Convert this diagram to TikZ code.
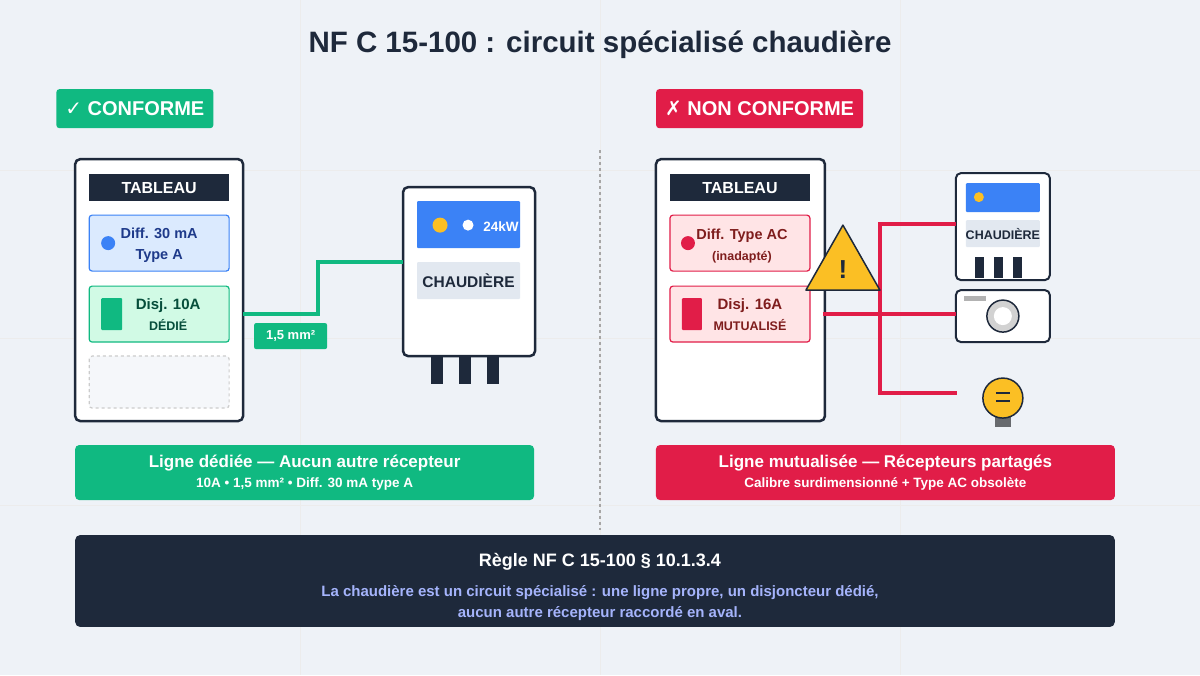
\documentclass[tikz,border=0pt]{standalone}
\usepackage{fontspec}
\setmainfont{Liberation Sans}
\newfontfamily\symfont{DejaVu Sans}
\usetikzlibrary{positioning}
\definecolor{bgc}{HTML}{EEF2F7}
\definecolor{navy}{HTML}{1E293B}
\definecolor{okg}{HTML}{10B981}
\definecolor{okl}{HTML}{D1FAE5}
\definecolor{okd}{HTML}{064E3B}
\definecolor{bad}{HTML}{E11D48}
\definecolor{badl}{HTML}{FFE4E6}
\definecolor{badd}{HTML}{7F1D1D}
\definecolor{blu}{HTML}{3B82F6}
\definecolor{blul}{HTML}{DBEAFE}
\definecolor{blud}{HTML}{1E3A8A}
\definecolor{ylw}{HTML}{FBBF24}
\definecolor{gry}{HTML}{E2E8F0}
\definecolor{lav}{HTML}{A5B4FC}
\begin{document}
\begin{tikzpicture}[x=1pt,y=-1pt,font=\bfseries]

\tikzstyle{panel}=[draw=navy,fill=white,line width=2.5pt,rounded corners=5pt]
\tikzstyle{module}=[line width=1.2pt,rounded corners=3pt]
\tikzstyle{badge}=[rectangle,rounded corners=3pt,text=white,font=\bfseries\fontsize{20}{24}\selectfont,inner xsep=9pt,minimum height=39pt]
\tikzstyle{summary}=[rectangle,rounded corners=4pt,text=white,minimum width=459pt,minimum height=55pt,align=center]
\tikzstyle{wireok}=[okg,line width=3.5pt]
\tikzstyle{wirebad}=[bad,line width=3.5pt]
\tikzstyle{leg}=[fill=navy]

% background and grid
\fill[bgc] (0,0) rectangle (1200,675);
\foreach \x in {300,600,900} \draw[gray!15] (\x,0) -- (\x,675);
\foreach \y in {170,338,505} \draw[gray!15] (0,\y) -- (1200,\y);
\draw[gray!70,dashed,line width=1.2pt] (600,150) -- (600,530);

\node[text=navy,font=\bfseries\fontsize{29.5}{34}\selectfont] (title) at (600,45) {NF C 15-100 : circuit spécialisé chaudière};

\node[badge,fill=okg,anchor=west] (okbadge) at (56,108.5) {{\symfont ✓} CONFORME};
\node[badge,fill=bad,anchor=west] (badbadge) at (656,108.5) {{\symfont ✗} NON CONFORME};

% left side
\draw[panel] (75,159) rectangle (243,421);
\fill[navy] (89,174) rectangle (229,201);
\node[text=white,font=\bfseries\fontsize{16}{18}\selectfont] (tabA) at (159,188) {TABLEAU};
\draw[module,draw=blu,fill=blul] (89,215) rectangle (229,271);
\fill[blu] (108,243) circle (7);
\node[text=blud,align=center,font=\bfseries\fontsize{14.5}{21}\selectfont] (diffA) at (159,245.5) {Diff. 30 mA\\Type A};
\draw[module,draw=okg,fill=okl] (89,286) rectangle (229,342);
\fill[okg,rounded corners=1pt] (101,298) rectangle (122,330);
\node[text=okd,align=center,font=\bfseries\fontsize{15}{21}\selectfont] (disjA) at (168,314.5) {Disj. 10A\\{\fontsize{12.5}{14}\selectfont DÉDIÉ}};
\draw[module,gray!40,dashed,fill=bgc!60] (89,356) rectangle (229,408);
\coordinate (outA) at (243,314);

\draw[panel] (403,187) rectangle (535,356);
\fill[blu,rounded corners=1pt] (417,201) rectangle (520,248);
\fill[ylw] (440,225) circle (7.5);
\fill[white] (468,225) circle (5.5);
\node[text=white,font=\bfseries\fontsize{13.5}{15}\selectfont] (kw) at (501,226) {24kW};
\fill[gry,rounded corners=1pt] (417,262) rectangle (520,299);
\node[text=navy,font=\bfseries\fontsize{15.5}{17}\selectfont] (chA) at (468.5,281) {CHAUDIÈRE};
\coordinate (inA) at (403,262);
\foreach \x in {431,459,487} \fill[leg] (\x,356) rectangle (\x+12,384);

\draw[wireok] (outA) -- (318,314) -- (318,262) -- (inA);
\node[fill=okg,rounded corners=2pt,text=white,minimum width=73pt,minimum height=26pt,font=\bfseries\fontsize{13}{15}\selectfont] (section) at (290.5,336) {1,5 mm²};

\node[summary,fill=okg] (sumA) at (304.5,472.5) {{\fontsize{17}{22}\selectfont Ligne dédiée — Aucun autre récepteur}\\[5pt]{\fontsize{13.5}{20}\selectfont 10A • 1,5 mm² • Diff. 30 mA type A}};

% right side
\draw[panel] (656,159) rectangle (825,421);
\fill[navy] (670,174) rectangle (810,201);
\node[text=white,font=\bfseries\fontsize{16}{18}\selectfont] (tabB) at (740,188) {TABLEAU};
\draw[module,draw=bad,fill=badl] (670,215) rectangle (810,271);
\fill[bad] (688,243) circle (7);
\node[text=badd,align=center,font=\bfseries\fontsize{14.5}{21}\selectfont] (diffB) at (742,245.5) {Diff. Type AC\\{\fontsize{12.5}{14}\selectfont (inadapté)}};
\draw[module,draw=bad,fill=badl] (670,286) rectangle (810,342);
\fill[bad,rounded corners=1pt] (682,298) rectangle (702,330);
\node[text=badd,align=center,font=\bfseries\fontsize{15}{21}\selectfont] (disjB) at (750,314.5) {Disj. 16A\\{\fontsize{12.5}{14}\selectfont MUTUALISÉ}};
\coordinate (outB) at (823,314);

\draw[panel,line width=2pt] (956,173) rectangle (1050,280);
\fill[blu,rounded corners=1pt] (966,183) rectangle (1040,212);
\fill[ylw] (979,197) circle (5);
\fill[gry,rounded corners=1pt] (966,220) rectangle (1040,247);
\node[text=navy,font=\bfseries\fontsize{12.5}{14}\selectfont] (chB) at (1003,233.5) {CHAUDIÈRE};
\foreach \x in {975,994,1013} \fill[leg] (\x,257) rectangle (\x+9,278);
\coordinate (inB) at (956,224);

\draw[panel,line width=2pt] (956,290) rectangle (1050,342);
\fill[gray!60] (964,296) rectangle (986,301);
\draw[navy,line width=1.5pt,fill=gray!35] (1003,316) circle (16);
\fill[white] (1003,316) circle (9);
\coordinate (inW) at (956,314);

\fill[gray!75!navy] (995,416) rectangle (1011,427);
\draw[navy,line width=1.5pt,fill=ylw] (1003,398) circle (20);
\draw[navy,line width=1.2pt] (996,393) -- (1010,393) (996,401) -- (1010,401);
\coordinate (inL) at (957,393);

\draw[wirebad] (outB) -- (inW);
\draw[wirebad] (inB) -- (880,224) -- (880,393) -- (inL);

\draw[navy,line width=1.5pt,fill=ylw,line join=round] (843,225) -- (880,290) -- (806,290) -- cycle;
\node[text=navy,font=\bfseries\fontsize{26}{28}\selectfont] (warn) at (843,269) {!};

\node[summary,fill=bad] (sumB) at (885.5,472.5) {{\fontsize{17}{22}\selectfont Ligne mutualisée — Récepteurs partagés}\\[5pt]{\fontsize{13.5}{20}\selectfont Calibre surdimensionné + Type AC obsolète}};

% rule box
\node[rectangle,rounded corners=5pt,fill=navy,minimum width=1040pt,minimum height=92pt] (rule) at (595,581) {};
\node[text=white,font=\bfseries\fontsize{18}{21}\selectfont] (ruletitle) at (600,562) {Règle NF C 15-100 § 10.1.3.4};
\node[text=lav,align=center,font=\bfseries\fontsize{15}{21}\selectfont] (ruletext) at (600,603) {La chaudière est un circuit spécialisé : une ligne propre, un disjoncteur dédié,\\aucun autre récepteur raccordé en aval.};
\end{tikzpicture}
\end{document}
